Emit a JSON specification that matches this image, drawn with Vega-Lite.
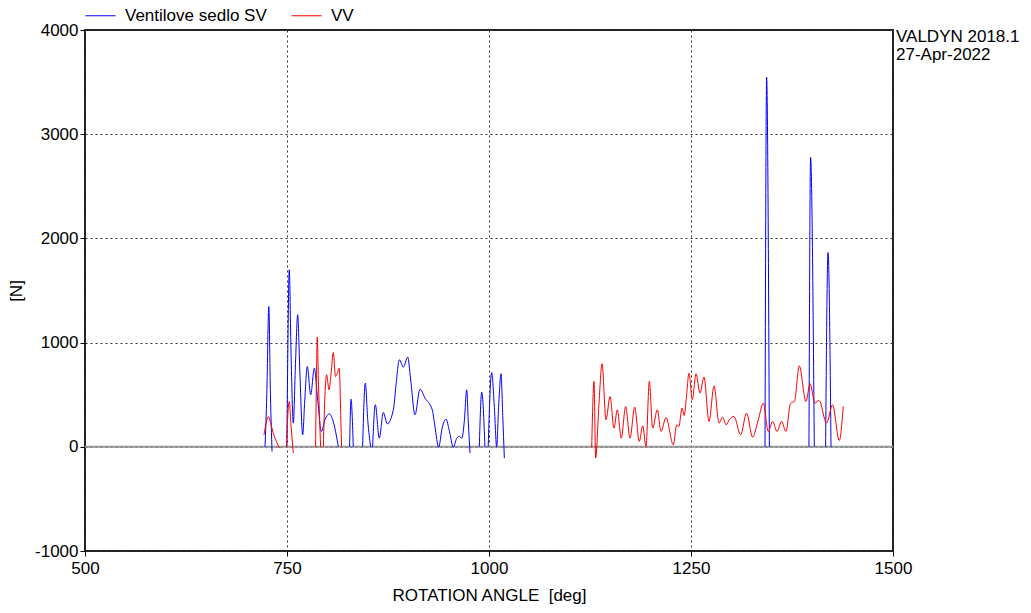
{
  "$schema": "https://vega.github.io/schema/vega-lite/v6.json",
  "autosize": {"type": "none"},
  "width": 808,
  "height": 521,
  "padding": {"left": 85, "top": 30, "right": 138, "bottom": 62},
  "background": "white",
  "config": {
    "font": "Liberation Sans",
    "view": {"stroke": "#222", "strokeWidth": 2},
    "axis": {
      "labelFont": "Liberation Sans",
      "titleFont": "Liberation Sans",
      "labelFontSize": 17,
      "titleFontSize": 17,
      "titleFontWeight": "normal",
      "labelColor": "#000",
      "titleColor": "#000",
      "domain": false,
      "tickColor": "#000",
      "tickSize": 5,
      "grid": true,
      "gridColor": "#333",
      "gridDash": [2, 3],
      "gridWidth": 1,
      "gridOpacity": 1,
      "labelFlush": false,
      "labelOverlap": false,
      "labelExpr": "'' + datum.value"
    }
  },
  "datasets": {
    "curves": [
      {"angle": 722.8, "force": 0, "series": "Ventilove sedlo SV", "seg": "b1"},
      {"angle": 725, "force": 500, "series": "Ventilove sedlo SV", "seg": "b1"},
      {"angle": 727.5, "force": 1346, "series": "Ventilove sedlo SV", "seg": "b1"},
      {"angle": 729.5, "force": 500, "series": "Ventilove sedlo SV", "seg": "b1"},
      {"angle": 731.5, "force": -45, "series": "Ventilove sedlo SV", "seg": "b1"},

      {"angle": 749.8, "force": 0, "series": "Ventilove sedlo SV", "seg": "b2"},
      {"angle": 751, "force": 900, "series": "Ventilove sedlo SV", "seg": "b2"},
      {"angle": 752.8, "force": 1699, "series": "Ventilove sedlo SV", "seg": "b2"},
      {"angle": 755, "force": 900, "series": "Ventilove sedlo SV", "seg": "b2"},
      {"angle": 757.8, "force": 227, "series": "Ventilove sedlo SV", "seg": "b2"},
      {"angle": 760.5, "force": 800, "series": "Ventilove sedlo SV", "seg": "b2"},
      {"angle": 763.2, "force": 1267, "series": "Ventilove sedlo SV", "seg": "b2"},
      {"angle": 766, "force": 700, "series": "Ventilove sedlo SV", "seg": "b2"},
      {"angle": 769.4, "force": 115, "series": "Ventilove sedlo SV", "seg": "b2"},
      {"angle": 772, "force": 450, "series": "Ventilove sedlo SV", "seg": "b2"},
      {"angle": 775.1, "force": 771, "series": "Ventilove sedlo SV", "seg": "b2"},
      {"angle": 779.3, "force": 499, "series": "Ventilove sedlo SV", "seg": "b2"},
      {"angle": 783.8, "force": 755, "series": "Ventilove sedlo SV", "seg": "b2"},
      {"angle": 788, "force": 450, "series": "Ventilove sedlo SV", "seg": "b2"},
      {"angle": 792.5, "force": 147, "series": "Ventilove sedlo SV", "seg": "b2"},
      {"angle": 797, "force": 260, "series": "Ventilove sedlo SV", "seg": "b2"},
      {"angle": 802.4, "force": 317, "series": "Ventilove sedlo SV", "seg": "b2"},
      {"angle": 808, "force": 220, "series": "Ventilove sedlo SV", "seg": "b2"},
      {"angle": 813.5, "force": 0, "series": "Ventilove sedlo SV", "seg": "b2"},

      {"angle": 827.5, "force": 0, "series": "Ventilove sedlo SV", "seg": "b3"},
      {"angle": 829.2, "force": 457, "series": "Ventilove sedlo SV", "seg": "b3"},
      {"angle": 832, "force": 0, "series": "Ventilove sedlo SV", "seg": "b3"},

      {"angle": 843.6, "force": 0, "series": "Ventilove sedlo SV", "seg": "b4"},
      {"angle": 846.9, "force": 611, "series": "Ventilove sedlo SV", "seg": "b4"},
      {"angle": 850, "force": 250, "series": "Ventilove sedlo SV", "seg": "b4"},
      {"angle": 853.5, "force": 0, "series": "Ventilove sedlo SV", "seg": "b4"},

      {"angle": 856, "force": 0, "series": "Ventilove sedlo SV", "seg": "b5"},
      {"angle": 859.3, "force": 403, "series": "Ventilove sedlo SV", "seg": "b5"},
      {"angle": 864.2, "force": 83, "series": "Ventilove sedlo SV", "seg": "b5"},
      {"angle": 869.2, "force": 329, "series": "Ventilove sedlo SV", "seg": "b5"},
      {"angle": 874.1, "force": 221, "series": "Ventilove sedlo SV", "seg": "b5"},
      {"angle": 881.6, "force": 355, "series": "Ventilove sedlo SV", "seg": "b5"},
      {"angle": 885, "force": 600, "series": "Ventilove sedlo SV", "seg": "b5"},
      {"angle": 889, "force": 835, "series": "Ventilove sedlo SV", "seg": "b5"},
      {"angle": 894, "force": 765, "series": "Ventilove sedlo SV", "seg": "b5"},
      {"angle": 899.4, "force": 861, "series": "Ventilove sedlo SV", "seg": "b5"},
      {"angle": 903, "force": 650, "series": "Ventilove sedlo SV", "seg": "b5"},
      {"angle": 908.4, "force": 307, "series": "Ventilove sedlo SV", "seg": "b5"},
      {"angle": 914.6, "force": 553, "series": "Ventilove sedlo SV", "seg": "b5"},
      {"angle": 920.8, "force": 467, "series": "Ventilove sedlo SV", "seg": "b5"},
      {"angle": 929.8, "force": 355, "series": "Ventilove sedlo SV", "seg": "b5"},
      {"angle": 933, "force": 200, "series": "Ventilove sedlo SV", "seg": "b5"},
      {"angle": 937.7, "force": -3, "series": "Ventilove sedlo SV", "seg": "b5"},
      {"angle": 942, "force": 180, "series": "Ventilove sedlo SV", "seg": "b5"},
      {"angle": 946.8, "force": 266, "series": "Ventilove sedlo SV", "seg": "b5"},
      {"angle": 951, "force": 150, "series": "Ventilove sedlo SV", "seg": "b5"},
      {"angle": 955.8, "force": -3, "series": "Ventilove sedlo SV", "seg": "b5"},
      {"angle": 960, "force": 80, "series": "Ventilove sedlo SV", "seg": "b5"},
      {"angle": 963.2, "force": 99, "series": "Ventilove sedlo SV", "seg": "b5"},
      {"angle": 966.5, "force": 83, "series": "Ventilove sedlo SV", "seg": "b5"},
      {"angle": 969.5, "force": 250, "series": "Ventilove sedlo SV", "seg": "b5"},
      {"angle": 972.4, "force": 547, "series": "Ventilove sedlo SV", "seg": "b5"},
      {"angle": 974.3, "force": 250, "series": "Ventilove sedlo SV", "seg": "b5"},
      {"angle": 976.5, "force": -60, "series": "Ventilove sedlo SV", "seg": "b5"},

      {"angle": 988, "force": 0, "series": "Ventilove sedlo SV", "seg": "b6"},
      {"angle": 991, "force": 525, "series": "Ventilove sedlo SV", "seg": "b6"},
      {"angle": 995, "force": 0, "series": "Ventilove sedlo SV", "seg": "b6"},

      {"angle": 999, "force": 0, "series": "Ventilove sedlo SV", "seg": "b7"},
      {"angle": 1003.3, "force": 713, "series": "Ventilove sedlo SV", "seg": "b7"},
      {"angle": 1006.5, "force": 400, "series": "Ventilove sedlo SV", "seg": "b7"},
      {"angle": 1009.5, "force": 0, "series": "Ventilove sedlo SV", "seg": "b7"},
      {"angle": 1012, "force": 400, "series": "Ventilove sedlo SV", "seg": "b7"},
      {"angle": 1014.9, "force": 701, "series": "Ventilove sedlo SV", "seg": "b7"},
      {"angle": 1017, "force": 300, "series": "Ventilove sedlo SV", "seg": "b7"},
      {"angle": 1019, "force": -108, "series": "Ventilove sedlo SV", "seg": "b7"},

      {"angle": 1341.6, "force": 0, "series": "Ventilove sedlo SV", "seg": "b8"},
      {"angle": 1343.6, "force": 3548, "series": "Ventilove sedlo SV", "seg": "b8"},
      {"angle": 1347, "force": 0, "series": "Ventilove sedlo SV", "seg": "b8"},

      {"angle": 1396, "force": 0, "series": "Ventilove sedlo SV", "seg": "b9"},
      {"angle": 1398, "force": 2777, "series": "Ventilove sedlo SV", "seg": "b9"},
      {"angle": 1402.6, "force": 0, "series": "Ventilove sedlo SV", "seg": "b9"},

      {"angle": 1416.6, "force": 0, "series": "Ventilove sedlo SV", "seg": "b10"},
      {"angle": 1419.6, "force": 1865, "series": "Ventilove sedlo SV", "seg": "b10"},
      {"angle": 1423.3, "force": 0, "series": "Ventilove sedlo SV", "seg": "b10"},

      {"angle": 721.5, "force": 115, "series": "VV", "seg": "r1"},
      {"angle": 724, "force": 220, "series": "VV", "seg": "r1"},
      {"angle": 726.9, "force": 291, "series": "VV", "seg": "r1"},
      {"angle": 730, "force": 220, "series": "VV", "seg": "r1"},
      {"angle": 733, "force": 131, "series": "VV", "seg": "r1"},
      {"angle": 737, "force": 50, "series": "VV", "seg": "r1"},
      {"angle": 740.5, "force": -12, "series": "VV", "seg": "r1"},

      {"angle": 749.5, "force": 0, "series": "VV", "seg": "r2"},
      {"angle": 751, "force": 300, "series": "VV", "seg": "r2"},
      {"angle": 752.8, "force": 435, "series": "VV", "seg": "r2"},
      {"angle": 755, "force": 200, "series": "VV", "seg": "r2"},
      {"angle": 757.8, "force": -60, "series": "VV", "seg": "r2"},

      {"angle": 785.4, "force": 0, "series": "VV", "seg": "r3"},
      {"angle": 786.5, "force": 700, "series": "VV", "seg": "r3"},
      {"angle": 787.4, "force": 1053, "series": "VV", "seg": "r3"},
      {"angle": 789, "force": 600, "series": "VV", "seg": "r3"},
      {"angle": 791.6, "force": 0, "series": "VV", "seg": "r3"},

      {"angle": 795, "force": 0, "series": "VV", "seg": "r4"},
      {"angle": 797, "force": 500, "series": "VV", "seg": "r4"},
      {"angle": 799, "force": 691, "series": "VV", "seg": "r4"},
      {"angle": 802, "force": 547, "series": "VV", "seg": "r4"},
      {"angle": 804.5, "force": 700, "series": "VV", "seg": "r4"},
      {"angle": 807.3, "force": 905, "series": "VV", "seg": "r4"},
      {"angle": 810, "force": 675, "series": "VV", "seg": "r4"},
      {"angle": 812, "force": 700, "series": "VV", "seg": "r4"},
      {"angle": 814.7, "force": 755, "series": "VV", "seg": "r4"},
      {"angle": 816.5, "force": 300, "series": "VV", "seg": "r4"},
      {"angle": 817.6, "force": 0, "series": "VV", "seg": "r4"},

      {"angle": 1127.1, "force": 0, "series": "VV", "seg": "r5"},
      {"angle": 1130, "force": 627, "series": "VV", "seg": "r5"},
      {"angle": 1132, "force": -108, "series": "VV", "seg": "r5"},
      {"angle": 1136, "force": 400, "series": "VV", "seg": "r5"},
      {"angle": 1139.9, "force": 797, "series": "VV", "seg": "r5"},
      {"angle": 1144.8, "force": 259, "series": "VV", "seg": "r5"},
      {"angle": 1149.8, "force": 483, "series": "VV", "seg": "r5"},
      {"angle": 1154.7, "force": 179, "series": "VV", "seg": "r5"},
      {"angle": 1158.8, "force": 355, "series": "VV", "seg": "r5"},
      {"angle": 1163.7, "force": 83, "series": "VV", "seg": "r5"},
      {"angle": 1169.1, "force": 387, "series": "VV", "seg": "r5"},
      {"angle": 1174.5, "force": 83, "series": "VV", "seg": "r5"},
      {"angle": 1180.3, "force": 381, "series": "VV", "seg": "r5"},
      {"angle": 1186, "force": 51, "series": "VV", "seg": "r5"},
      {"angle": 1190.2, "force": 201, "series": "VV", "seg": "r5"},
      {"angle": 1194.3, "force": 3, "series": "VV", "seg": "r5"},
      {"angle": 1198.4, "force": 627, "series": "VV", "seg": "r5"},
      {"angle": 1202.6, "force": 179, "series": "VV", "seg": "r5"},
      {"angle": 1208.3, "force": 355, "series": "VV", "seg": "r5"},
      {"angle": 1212.9, "force": 147, "series": "VV", "seg": "r5"},
      {"angle": 1219.1, "force": 281, "series": "VV", "seg": "r5"},
      {"angle": 1228.1, "force": 19, "series": "VV", "seg": "r5"},
      {"angle": 1232.3, "force": 211, "series": "VV", "seg": "r5"},
      {"angle": 1235, "force": 195, "series": "VV", "seg": "r5"},
      {"angle": 1238.9, "force": 371, "series": "VV", "seg": "r5"},
      {"angle": 1241.5, "force": 300, "series": "VV", "seg": "r5"},
      {"angle": 1244, "force": 450, "series": "VV", "seg": "r5"},
      {"angle": 1247.5, "force": 707, "series": "VV", "seg": "r5"},
      {"angle": 1251.6, "force": 451, "series": "VV", "seg": "r5"},
      {"angle": 1256.2, "force": 701, "series": "VV", "seg": "r5"},
      {"angle": 1261.1, "force": 515, "series": "VV", "seg": "r5"},
      {"angle": 1266.1, "force": 669, "series": "VV", "seg": "r5"},
      {"angle": 1272.3, "force": 243, "series": "VV", "seg": "r5"},
      {"angle": 1278.5, "force": 585, "series": "VV", "seg": "r5"},
      {"angle": 1284.7, "force": 227, "series": "VV", "seg": "r5"},
      {"angle": 1289.2, "force": 285, "series": "VV", "seg": "r5"},
      {"angle": 1293.5, "force": 211, "series": "VV", "seg": "r5"},
      {"angle": 1297.5, "force": 260, "series": "VV", "seg": "r5"},
      {"angle": 1303.2, "force": 291, "series": "VV", "seg": "r5"},
      {"angle": 1311.4, "force": 115, "series": "VV", "seg": "r5"},
      {"angle": 1318.8, "force": 323, "series": "VV", "seg": "r5"},
      {"angle": 1326.2, "force": 93, "series": "VV", "seg": "r5"},
      {"angle": 1333, "force": 250, "series": "VV", "seg": "r5"},
      {"angle": 1339.5, "force": 419, "series": "VV", "seg": "r5"},
      {"angle": 1345.6, "force": 147, "series": "VV", "seg": "r5"},
      {"angle": 1351, "force": 243, "series": "VV", "seg": "r5"},
      {"angle": 1356.5, "force": 147, "series": "VV", "seg": "r5"},
      {"angle": 1362.1, "force": 243, "series": "VV", "seg": "r5"},
      {"angle": 1367.5, "force": 147, "series": "VV", "seg": "r5"},
      {"angle": 1373.3, "force": 419, "series": "VV", "seg": "r5"},
      {"angle": 1378, "force": 435, "series": "VV", "seg": "r5"},
      {"angle": 1384, "force": 777, "series": "VV", "seg": "r5"},
      {"angle": 1392.3, "force": 435, "series": "VV", "seg": "r5"},
      {"angle": 1397.3, "force": 605, "series": "VV", "seg": "r5"},
      {"angle": 1403.5, "force": 419, "series": "VV", "seg": "r5"},
      {"angle": 1408.5, "force": 445, "series": "VV", "seg": "r5"},
      {"angle": 1417.8, "force": 227, "series": "VV", "seg": "r5"},
      {"angle": 1425.2, "force": 403, "series": "VV", "seg": "r5"},
      {"angle": 1433.5, "force": 60, "series": "VV", "seg": "r5"},
      {"angle": 1438.4, "force": 387, "series": "VV", "seg": "r5"}
    ]
  },
  "layer": [
    {
      "data": {"values": [{"zero": 0}]},
      "mark": {"type": "rule", "color": "#999", "strokeWidth": 2},
      "encoding": {"y": {"field": "zero", "type": "quantitative"}}
    },
    {
      "data": {"name": "curves"},
      "mark": {"type": "line", "strokeWidth": 1, "interpolate": "monotone", "clip": true},
      "encoding": {
        "x": {
          "field": "angle", "type": "quantitative",
          "scale": {"domain": [500, 1500], "nice": false, "zero": false},
          "axis": {"values": [500, 750, 1000, 1250, 1500], "title": "ROTATION ANGLE\u00a0\u00a0[deg]", "labelPadding": 4, "titlePadding": 11}
        },
        "y": {
          "field": "force", "type": "quantitative",
          "scale": {"domain": [-1000, 4000], "nice": false},
          "axis": {"values": [-1000, 0, 1000, 2000, 3000, 4000], "title": "[N]", "labelPadding": 2, "titlePadding": 9}
        },
        "color": {
          "field": "series", "type": "nominal",
          "scale": {"domain": ["Ventilove sedlo SV", "VV"], "range": ["#0000ff", "#ff0000"]},
          "legend": {
            "title": null,
            "orient": "none",
            "legendX": 0,
            "legendY": -30,
            "direction": "horizontal",
            "symbolType": "stroke",
            "symbolSize": 900,
            "symbolStrokeWidth": 1,
            "labelFont": "Liberation Sans",
            "labelFontSize": 17,
            "labelColor": "#000",
            "labelOffset": 9,
            "columnPadding": 22,
            "padding": 0
          }
        },
        "detail": {"field": "seg", "type": "nominal"}
      }
    },
    {
      "data": {"values": [{"x": 1500, "y": 4000}]},
      "mark": {"type": "text", "text": ["VALDYN 2018.1", "27-Apr-2022"], "align": "left", "baseline": "top", "dx": 3, "dy": -1, "fontSize": 17, "lineHeight": 18, "font": "Liberation Sans", "color": "#000"},
      "encoding": {
        "x": {"field": "x", "type": "quantitative"},
        "y": {"field": "y", "type": "quantitative"}
      }
    }
  ]
}
